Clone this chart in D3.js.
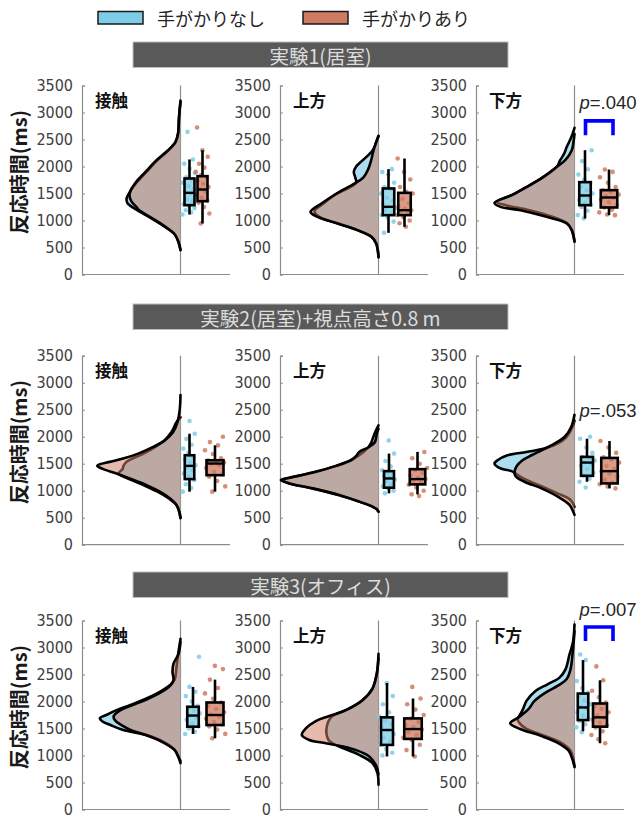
<!DOCTYPE html>
<html>
<head>
<meta charset="utf-8">
<script src="https://cdn.jsdelivr.net/npm/d3@7/dist/d3.min.js"></script>
<style>
  html, body { margin: 0; padding: 0; background: #ffffff; }
  svg { display: block; }
</style>
</head>
<body>
<div id="chart"></div>
<script>
// ---- Data -------------------------------------------------------------
const groupNames = ["手がかりなし", "手がかりあり"];
const expTitles = ["実験1(居室)", "実験2(居室)+視点高さ0.8 m", "実験3(オフィス)"];
const condNames = ["接触", "上方", "下方"];
const yTickValues = [0, 500, 1000, 1500, 2000, 2500, 3000, 3500];

// Density profiles: [reaction time (ms), density (1/s)] per condition
const noCueDensity1 = [
  [[3220,0],[2900,0.03],[2600,0.05],[2450,0.10],[2300,0.24],[2100,0.48],[1900,0.68],[1700,0.88],[1550,1.00],[1400,1.08],[1320,1.06],[1200,0.88],[1050,0.60],[900,0.34],[750,0.12],[600,0.04],[450,0]],
  [[2560,0],[2450,0.046],[2300,0.114],[2117,0.314],[2000,0.446],[1900,0.494],[1800,0.466],[1700,0.446],[1600,0.60],[1500,0.82],[1315,1.10],[1170,1.28],[1068,1.18],[944,0.80],[821,0.42],[697,0.14],[574,0.046],[450,0.014],[320,0]],
  [[2716,0],[2549,0.06],[2364,0.154],[2240,0.206],[2117,0.286],[1994,0.354],[1809,0.62],[1623,0.954],[1469,1.254],[1346,1.56],[1280,1.36],[1191,0.90],[1068,0.44],[944,0.14],[821,0.054],[620,0]]
];
const cueDensity1 = [
  [[3200,0],[2900,0.03],[2600,0.05],[2450,0.10],[2300,0.25],[2100,0.50],[1900,0.70],[1700,0.90],[1550,1.00],[1450,1.02],[1350,0.98],[1250,0.88],[1200,0.84],[1050,0.58],[900,0.33],[750,0.12],[600,0.04],[460,0]],
  [[2570,0],[2450,0.046],[2300,0.10],[2117,0.146],[1932,0.214],[1800,0.30],[1685,0.48],[1500,0.84],[1315,1.14],[1160,1.36],[1068,1.22],[944,0.82],[821,0.42],[697,0.14],[574,0.046],[450,0.014],[320,0]],
  [[2600,0],[2457,0.02],[2302,0.054],[2117,0.186],[1994,0.354],[1809,0.62],[1623,0.954],[1469,1.254],[1327,1.60],[1253,1.48],[1191,1.08],[1068,0.56],[944,0.154],[821,0.054],[605,0]]
];
const noCueDensity2 = [
  [[2360,0],[2270,0.08],[2086,0.18],[1932,0.32],[1810,0.50],[1687,0.74],[1595,0.96],[1534,1.08],[1460,1.14],[1400,1.16],[1319,1.24],[1227,1.06],[1104,0.74],[982,0.46],[859,0.24],[736,0.08],[613,0.026],[500,0]],
  [[2209,0],[2055,0.08],[1902,0.14],[1810,0.20],[1718,0.30],[1650,0.40],[1564,0.54],[1460,0.84],[1337,1.30],[1239,1.76],[1196,1.92],[1135,1.78],[1043,1.32],[920,0.80],[798,0.386],[706,0.12],[660,0.04],[613,0]],
  [[2300,0],[2178,0.04],[1994,0.16],[1871,0.34],[1780,0.60],[1718,0.96],[1656,1.34],[1564,1.54],[1503,1.60],[1411,1.474],[1362,1.26],[1319,1.18],[1258,1.08],[1166,0.88],[1043,0.56],[951,0.34],[828,0.08],[700,0]]
];
const cueDensity2 = [
  [[2773,0],[2515,0.014],[2270,0.06],[2086,0.146],[1932,0.314],[1810,0.546],[1687,0.846],[1595,1.146],[1534,1.414],[1490,1.614],[1460,1.666],[1400,1.546],[1319,1.28],[1227,1.014],[1104,0.68],[982,0.414],[859,0.214],[736,0.08],[613,0.026],[491,0]],
  [[2150,0],[2055,0.034],[1902,0.07],[1810,0.186],[1718,0.386],[1650,0.44],[1564,0.554],[1460,0.854],[1337,1.32],[1239,1.786],[1196,1.954],[1135,1.786],[1043,1.32],[920,0.786],[798,0.386],[706,0.12],[660,0.04],[613,0]],
  [[2405,0],[2178,0.066],[1994,0.20],[1871,0.40],[1748,0.66],[1656,0.86],[1564,1.04],[1450,1.16],[1320,1.20],[1258,1.166],[1166,1.00],[1043,0.66],[890,0.334],[736,0.10],[552,0]]
];
const noCueDensity3 = [
  [[3160,0],[2883,0.046],[2638,0.08],[2400,0.12],[2300,0.214],[2178,0.414],[2055,0.68],[1932,1.014],[1840,1.28],[1760,1.46],[1690,1.614],[1630,1.56],[1564,1.40],[1472,1.146],[1380,0.68],[1258,0.346],[1104,0.114],[982,0.046],[859,0]],
  [[2883,0],[2515,0.034],[2239,0.12],[2025,0.32],[1840,0.654],[1730,0.92],[1638,1.00],[1503,1.04],[1400,1.04],[1288,1.00],[1227,0.92],[1166,0.786],[1012,0.386],[859,0.12],[675,0.02],[460,0]],
  [[3423,0],[3100,0.03],[2871,0.10],[2595,0.18],[2442,0.30],[2319,0.54],[2196,0.78],[2012,0.96],[1859,1.03],[1736,1.10],[1675,1.14],[1600,1.10],[1491,0.96],[1368,0.60],[1245,0.28],[1092,0.08],[908,0.02],[800,0]]
];
const cueDensity3 = [
  [[3100,0],[2883,0.04],[2700,0.14],[2550,0.16],[2400,0.14],[2300,0.20],[2178,0.38],[2055,0.64],[1932,0.96],[1840,1.20],[1720,1.34],[1640,1.30],[1564,1.18],[1472,1.00],[1380,0.70],[1258,0.38],[1104,0.12],[982,0.046],[900,0]],
  [[2800,0],[2515,0.034],[2239,0.12],[2025,0.32],[1840,0.654],[1730,0.986],[1638,1.254],[1503,1.454],[1380,1.534],[1288,1.386],[1227,1.054],[1166,0.70],[1104,0.46],[982,0.186],[798,0.04],[650,0]],
  [[3300,0],[2871,0.04],[2595,0.08],[2411,0.16],[2288,0.34],[2166,0.58],[2012,0.80],[1859,0.92],[1706,1.12],[1595,1.286],[1491,1.086],[1368,0.686],[1245,0.354],[1092,0.12],[908,0.034],[785,0]]
];

// Box summaries: [lower whisker, Q1, median, Q3, upper whisker] (ms)
const noCueBox1 = [[1111,1284,1512,1778,2130],[772,1099,1253,1593,1951],[1037,1284,1463,1710,2302]];
const cueBox1   = [[944,1358,1574,1821,2302],[883,1099,1191,1512,2148],[1099,1241,1426,1562,1944]];
const noCueBox2 = [[982,1215,1460,1656,2055],[951,1055,1227,1362,1687],[1166,1276,1521,1626,1963]];
const cueBox2   = [[982,1288,1503,1564,1840],[932,1117,1215,1399,1718],[1043,1135,1362,1607,1920]];
const noCueBox3 = [[1399,1534,1740,1902,2270],[982,1196,1472,1706,2343],[1450,1656,1890,2147,2767]];
const cueBox3   = [[1319,1564,1750,1982,2405],[982,1307,1490,1687,2055],[1227,1534,1706,1963,2393]];

// Individual participants' mean reaction times (ms)
const noCuePoints1 = [
  [1111,1150,1190,1230,1270,1300,1350,1400,1450,1500,1530,1580,1640,1700,1760,1800,1880,1960,2050,2130,2642],
  [772,980,1050,1100,1150,1190,1230,1260,1300,1360,1420,1500,1580,1620,1700,1850,1900,1951],
  [1037,1100,1180,1250,1290,1330,1380,1430,1460,1500,1560,1620,1700,1760,1850,1950,2100,2302]
];
const cuePoints1 = [
  [944,1130,1250,1330,1370,1420,1480,1540,1580,1620,1680,1740,1800,1840,1900,1980,2050,2180,2302,2722],
  [883,950,1000,1060,1100,1130,1160,1190,1220,1260,1320,1400,1500,1530,1620,1760,1900,2148],
  [1099,1110,1150,1200,1240,1290,1340,1390,1420,1450,1480,1530,1560,1620,1700,1800,1900,1944]
];
const noCuePoints2 = [
  [982,1050,1120,1200,1260,1320,1380,1440,1470,1520,1580,1640,1700,1780,1850,1960,2055,2290],
  [951,1000,1040,1080,1120,1170,1210,1240,1270,1300,1340,1380,1450,1550,1687,1930],
  [1060,1166,1220,1280,1330,1400,1460,1500,1530,1560,1600,1630,1700,1800,1963,2000]
];
const cuePoints2 = [
  [982,1080,1180,1260,1300,1350,1420,1470,1500,1520,1540,1560,1600,1680,1750,1840,1900,2000],
  [900,932,1000,1060,1110,1150,1190,1215,1240,1280,1330,1380,1420,1500,1600,1718],
  [1043,1080,1120,1150,1200,1260,1320,1360,1400,1460,1520,1580,1620,1700,1800,1920]
];
const noCuePoints3 = [
  [1399,1440,1500,1540,1600,1660,1700,1740,1780,1830,1880,1920,2000,2100,2180,2270,2830],
  [1000,1050,1120,1200,1260,1330,1400,1470,1520,1580,1650,1720,1800,1950,2100,2343],
  [1430,1521,1580,1640,1680,1740,1800,1860,1900,1950,2020,2100,2160,2250,2380,2767,2870]
];
const cuePoints3 = [
  [1319,1400,1480,1540,1580,1620,1680,1720,1760,1800,1860,1920,1980,2050,2150,2250,2405,2600,2660],
  [982,1100,1200,1290,1330,1380,1430,1480,1520,1560,1620,1680,1750,1850,1950,2055,2270],
  [1227,1300,1380,1450,1520,1560,1610,1660,1700,1740,1800,1860,1920,1980,2080,2200,2393,2650]
];

// Paired comparison for 下方 in each experiment
const pValues = [".040", ".053", ".007"];
const pSignificant = [true, false, true];

// ---- Layout -----------------------------------------------------------
const W = 642, H = 819;
const colors = ["#7ecde6", "#cd7b62"];
const fillOpacity = [0.65, 0.53];
const panelLeft = [82, 280, 476];
const panelWidth = 148;
const centerOffset = 98.5;
const rowTop = [85.5, 355.7, 620.5];
const plotH = 189;
const barY = [42, 304, 572];
// box placement relative to the centre line: [offset, width] per group
const boxLayout = [
  [[[9,10],[22,10]], [[10,11.5],[26,12.5]], [[10.5,11.5],[34.5,16.5]]],
  [[[9,9.5],[34.5,17]], [[10.5,10],[39,15.5]], [[12.5,12],[35,16.5]]],
  [[[12.5,11.5],[34.5,17]], [[8.5,12],[34.5,17.5]], [[8.5,10.5],[25.5,14]]]
];
// p-label / bracket heights (ms)
const pLayout = [
  {label: 3190, top: 2845, leg: 2580},
  {label: 2490},
  {label: 3720, top: 3380, leg: 3120}
];

const densities = [[noCueDensity1, cueDensity1], [noCueDensity2, cueDensity2], [noCueDensity3, cueDensity3]];
const boxes = [[noCueBox1, cueBox1], [noCueBox2, cueBox2], [noCueBox3, cueBox3]];
const points = [[noCuePoints1, cuePoints1], [noCuePoints2, cuePoints2], [noCuePoints3, cuePoints3]];

const svg = d3.select("#chart").append("svg")
  .attr("width", W).attr("height", H)
  .attr("viewBox", `0 0 ${W} ${H}`);

const jpFont = "'Noto Sans CJK JP', 'Noto Sans', sans-serif";
const numFont = "'Liberation Sans Narrow', 'DejaVu Sans Condensed', 'Liberation Sans', sans-serif";

// ---- Legend -------------------------------------------------------------
const legendX = [98, 303];
groupNames.forEach((name, g) => {
  svg.append("rect")
    .attr("x", legendX[g]).attr("y", 11.5)
    .attr("width", 45).attr("height", 12.5)
    .attr("fill", colors[g]).attr("stroke", "#1a1a1a").attr("stroke-width", 1.5);
  svg.append("text")
    .attr("x", legendX[g] + 59).attr("y", 18)
    .attr("dominant-baseline", "central")
    .attr("font-family", jpFont).attr("font-size", 18)
    .attr("fill", "#262626")
    .text(name);
});

// ---- Rows ---------------------------------------------------------------
const yScales = rowTop.map(t => d3.scaleLinear().domain([0, 3500]).range([t + plotH, t]));
const dScale = d3.scaleLinear().domain([0, 2]).range([0, 100]);

expTitles.forEach((title, r) => {
  const y = yScales[r];

  // experiment banner
  svg.append("rect")
    .attr("x", 133).attr("y", barY[r])
    .attr("width", 375).attr("height", 25.5)
    .attr("fill", "#595959").attr("stroke", "#bdbdbd").attr("stroke-width", 1);
  svg.append("text")
    .attr("x", 320.5).attr("y", barY[r] + 13)
    .attr("text-anchor", "middle").attr("dominant-baseline", "central")
    .attr("font-family", jpFont).attr("font-size", 19.5)
    .attr("fill", "#dcdcdc")
    .text(title);

  // y axis title
  const ymid = rowTop[r] + plotH / 2 - 8;
  svg.append("text")
    .attr("transform", `translate(18,${ymid}) rotate(-90)`)
    .attr("text-anchor", "middle").attr("dominant-baseline", "central")
    .attr("font-family", jpFont).attr("font-size", 20).attr("font-weight", 700)
    .attr("fill", "#1a1a1a")
    .text("反応時間(ms)");

  condNames.forEach((cond, c) => {
    const left = panelLeft[c];
    const cx = left + centerOffset;
    const g = svg.append("g");

    // left axis with tick labels
    const axis = d3.axisLeft(y).tickValues(yTickValues).tickSize(-3).tickPadding(9).tickFormat(d3.format("d"));
    const ax = g.append("g").attr("transform", `translate(${left},0)`).call(axis);
    ax.select(".domain").attr("stroke", "#8c8c8c").attr("stroke-width", 1.2);
    ax.selectAll(".tick line").attr("stroke", "#8c8c8c");
    ax.selectAll(".tick text")
      .attr("font-family", numFont).attr("font-size", 16)
      .attr("fill", "#404040");

    // bottom axis line
    g.append("line")
      .attr("x1", left).attr("x2", left + panelWidth)
      .attr("y1", y(0)).attr("y2", y(0))
      .attr("stroke", "#8c8c8c").attr("stroke-width", 1.2);

    // centre line of the half violins
    g.append("line")
      .attr("x1", cx).attr("x2", cx)
      .attr("y1", y(3500)).attr("y2", y(0))
      .attr("stroke", "#8c8c8c").attr("stroke-width", 1.2);

    // condition title
    g.append("text")
      .attr("x", left + 13).attr("y", rowTop[r] + 14.5)
      .attr("dominant-baseline", "central")
      .attr("font-family", jpFont).attr("font-size", 16.5).attr("font-weight", 700)
      .attr("fill", "#111")
      .text(cond);

    // half violins: no-cue first, cue on top
    [0, 1].forEach(k => {
      const dens = densities[r][k][c];
      const area = d3.area()
        .y(d => y(d[0]))
        .x0(cx)
        .x1(d => cx - dScale(d[1]))
        .curve(d3.curveCatmullRom.alpha(0.5));
      const line = d3.line()
        .y(d => y(d[0]))
        .x(d => cx - dScale(d[1]))
        .curve(d3.curveCatmullRom.alpha(0.5));
      g.append("path").attr("d", area(dens))
        .attr("fill", colors[k]).attr("fill-opacity", fillOpacity[k]);
      g.append("path").attr("d", line(dens))
        .attr("fill", "none").attr("stroke", "#000")
        .attr("stroke-width", 2.6).attr("stroke-linejoin", "round").attr("stroke-linecap", "round");
    });

    // jittered participant points
    [0, 1].forEach(k => {
      const [off, bw] = boxLayout[r][c][k];
      const bx = cx + off;
      const spread = bw + 4;
      g.append("g").selectAll("circle")
        .data(points[r][k][c])
        .join("circle")
        .attr("cx", (d, i) => bx + (((i * 0.618034 + k * 0.37 + c * 0.21) % 1) - 0.5) * spread)
        .attr("cy", d => y(d))
        .attr("r", 2.3)
        .attr("fill", colors[k]).attr("fill-opacity", 0.85);
    });

    // box plots
    [0, 1].forEach(k => {
      const [off, bw] = boxLayout[r][c][k];
      const bx = cx + off;
      const [lo, q1, med, q3, hi] = boxes[r][k][c];
      const bg = g.append("g");
      bg.append("line")
        .attr("x1", bx).attr("x2", bx).attr("y1", y(hi)).attr("y2", y(q3))
        .attr("stroke", "#000").attr("stroke-width", 2.6);
      bg.append("line")
        .attr("x1", bx).attr("x2", bx).attr("y1", y(q1)).attr("y2", y(lo))
        .attr("stroke", "#000").attr("stroke-width", 2.6);
      bg.append("rect")
        .attr("x", bx - bw / 2).attr("y", y(q3))
        .attr("width", bw).attr("height", y(q1) - y(q3))
        .attr("fill", colors[k]).attr("fill-opacity", 0.75)
        .attr("stroke", "#000").attr("stroke-width", 2.6);
      bg.append("line")
        .attr("x1", bx - bw / 2).attr("x2", bx + bw / 2)
        .attr("y1", y(med)).attr("y2", y(med))
        .attr("stroke", "#000").attr("stroke-width", 2.4);
    });

    // comparison annotation for 下方
    if (c === 2) {
      const pl = pLayout[r];
      const t = g.append("text")
        .attr("x", cx + 5).attr("y", y(pl.label))
        .attr("dominant-baseline", "central")
        .attr("font-family", "'Liberation Sans', 'DejaVu Sans', sans-serif")
        .attr("font-size", 18.5).attr("fill", "#262626");
      t.append("tspan").attr("font-style", "italic").text("p");
      t.append("tspan").text("=" + pValues[r]);
      if (pSignificant[r]) {
        const x1 = cx + 11, x2 = cx + 38.5;
        g.append("path")
          .attr("d", `M${x1},${y(pl.leg)}V${y(pl.top)}H${x2}V${y(pl.leg)}`)
          .attr("fill", "none").attr("stroke", "#0000ff").attr("stroke-width", 3.6);
      }
    }
  });
});
</script>
</body>
</html>
